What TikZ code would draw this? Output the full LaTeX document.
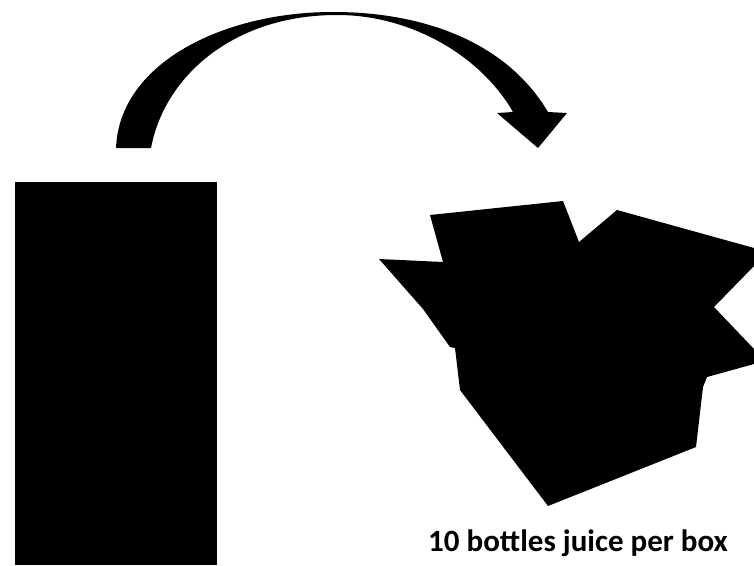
\documentclass[tikz,border=0pt]{standalone}
\usepackage{fontspec}
\setmainfont{Carlito}
\tikzset{solidshape/.style={fill=black,draw=none}}
\begin{document}
\begin{tikzpicture}[x=1pt,y=-1pt]
\useasboundingbox (0,0) rectangle (754,565);
\fill[white] (0,0) rectangle (754,565);
% bottle block
\fill[solidshape] (15,182) rectangle (217,565);
% curved arrow
\fill[solidshape,rounded corners=0.6pt] (116,148) .. controls (120,62) and (225,12) .. (333,12)
  .. controls (420,12) and (505,40) .. (548,112) -- (567,113) -- (538,148) -- (497,113) -- (513,112)
  .. controls (480,55) and (410,15) .. (337,15)
  .. controls (235,15) and (165,75) .. (151,148) -- cycle;
% open box
\fill[solidshape] (379,259) -- (443,262) -- (430,215) -- (563,201) -- (579,242) -- (617,210)
  -- (754,248) -- (754,266) -- (714,307) -- (754,349) -- (754,364) -- (707,377) -- (703,387)
  -- (696,447) -- (548,506) -- (460,390) -- (455,348) -- (450,347) -- (423,309) -- cycle;
\node[anchor=base,inner sep=0pt,font=\bfseries\fontsize{31}{34}\selectfont] (caption) at (578,551) {10 bottles juice per box};
\end{tikzpicture}
\end{document}
